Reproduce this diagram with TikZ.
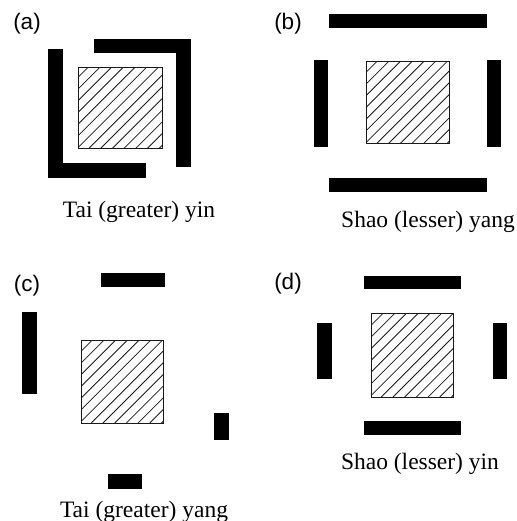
\documentclass[tikz,border=0pt]{standalone}
\usepackage{fontspec}
\setmainfont{Liberation Serif}
\newfontfamily\lblfont{Liberation Sans}
\tikzset{
  bar/.style={fill=black, draw=none},
  hatchline/.style={line width=0.8pt, draw=black!90},
  sqborder/.style={line width=1pt, draw=black!90},
  caption/.style={anchor=base, inner sep=0pt, font=\fontsize{23.5}{26}\selectfont},
  panel/.style={anchor=base, inner sep=0pt, font=\lblfont\fontsize{22.5}{26}\selectfont},
}
\newcommand{\hatchsq}[4]{%
  \begin{scope}
    \clip (#1,#2) rectangle (#3,#4);
    \foreach \k in {0,...,17}{\draw[hatchline] (#1-95+\k*11.7,#4) -- ++(120,-120);}
  \end{scope}
  \draw[sqborder] (#1,#2) rectangle (#3,#4);}
\begin{document}
\begin{tikzpicture}[x=1pt,y=-1pt]
\useasboundingbox[fill=white] (0,0) rectangle (516,521);
% ---------- (a)
\node[panel] (la) at (27,30) {(a)};
\hatchsq{78}{68}{162}{149}
\fill[bar] (48,49) rectangle (63,178);
\fill[bar] (48,163) rectangle (146,178);
\fill[bar] (94,39) rectangle (191,53);
\fill[bar] (176,39) rectangle (191,167);
\node[caption] (ta) at (139,217) {Tai (greater) yin};
% ---------- (b)
\node[panel] (lb) at (288,30) {(b)};
\hatchsq{366}{62}{449}{144}
\fill[bar] (329,14) rectangle (487,28);
\fill[bar] (314,60) rectangle (328,147);
\fill[bar] (487,60) rectangle (501,147);
\fill[bar] (329,178) rectangle (487,192);
\node[caption] (tb) at (428,227) {Shao (lesser) yang};
% ---------- (c)
\node[panel] (lc) at (27,291) {(c)};
\hatchsq{81}{340}{163}{423}
\fill[bar] (101,273) rectangle (165,287);
\fill[bar] (22,312) rectangle (37,394);
\fill[bar] (214,413) rectangle (229,440);
\fill[bar] (108,474) rectangle (142,489);
\node[caption] (tc) at (144,517) {Tai (greater) yang};
% ---------- (d)
\node[panel] (ld) at (288,289) {(d)};
\hatchsq{371}{313}{453}{397}
\fill[bar] (364,276) rectangle (461,289);
\fill[bar] (317,323) rectangle (332,379);
\fill[bar] (493,323) rectangle (507,379);
\fill[bar] (364,421) rectangle (461,435);
\node[caption] (td) at (420,469) {Shao (lesser) yin};
\end{tikzpicture}
\end{document}
